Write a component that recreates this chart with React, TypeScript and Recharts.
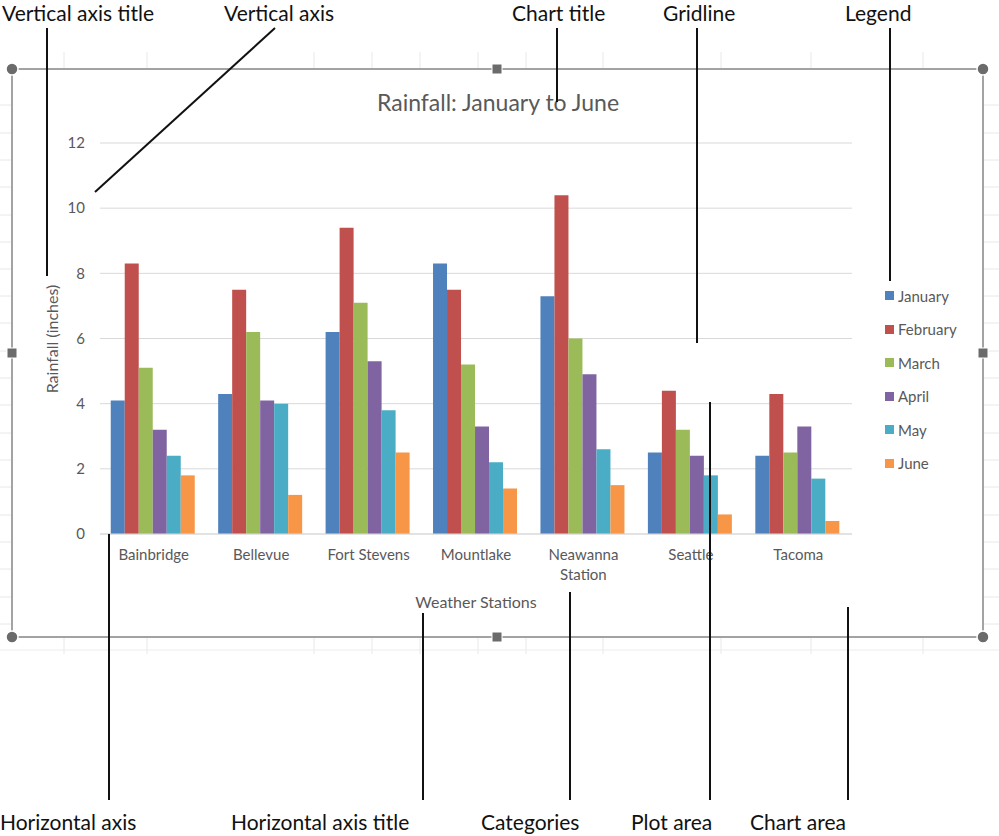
import { Bar, BarChart, CartesianGrid, Text, XAxis, YAxis } from 'recharts'

const stations = ['Bainbridge', 'Bellevue', 'Fort Stevens', 'Mountlake', 'Neawanna Station', 'Seattle', 'Tacoma']
const january = [4.1, 4.3, 6.2, 8.3, 7.3, 2.5, 2.4]
const february = [8.3, 7.5, 9.4, 7.5, 10.4, 4.4, 4.3]
const march = [5.1, 6.2, 7.1, 5.2, 6.0, 3.2, 2.5]
const april = [3.2, 4.1, 5.3, 3.3, 4.9, 2.4, 3.3]
const may = [2.4, 4.0, 3.8, 2.2, 2.6, 1.8, 1.7]
const june = [1.8, 1.2, 2.5, 1.4, 1.5, 0.6, 0.4]
const yTicks = [0, 2, 4, 6, 8, 10, 12]

const series = [
  { key: 'january', name: 'January', values: january, color: '#4F81BD' },
  { key: 'february', name: 'February', values: february, color: '#C0504D' },
  { key: 'march', name: 'March', values: march, color: '#9BBB59' },
  { key: 'april', name: 'April', values: april, color: '#8064A2' },
  { key: 'may', name: 'May', values: may, color: '#4BACC6' },
  { key: 'june', name: 'June', values: june, color: '#F79646' },
]

const data = stations.map((station, i) => {
  const row: Record<string, string | number> = { station }
  series.forEach((s) => {
    row[s.key] = s.values[i]
  })
  return row
})

const FONT = 'Lato, "Open Sans", sans-serif'
const GREY = '#595959'

// callout labels drawn around the chart (diagram annotations)
const callouts = [
  { text: 'Vertical axis title', x: 2, y: 21, line: [47, 28, 47, 276] },
  { text: 'Vertical axis', x: 224, y: 21, line: [275, 28, 95, 192] },
  { text: 'Chart title', x: 512, y: 21, line: [557, 28, 557, 102] },
  { text: 'Gridline', x: 663, y: 21, line: [697, 28, 697, 343] },
  { text: 'Legend', x: 845, y: 21, line: [890, 28, 890, 281] },
  { text: 'Horizontal axis', x: 0, y: 830, line: [109, 534, 109, 800] },
  { text: 'Horizontal axis title', x: 231, y: 830, line: [423, 613, 423, 800] },
  { text: 'Categories', x: 481, y: 830, line: [570, 592, 570, 800] },
  { text: 'Plot area', x: 631, y: 830, line: [710, 402, 710, 800] },
  { text: 'Chart area', x: 750, y: 830, line: [848, 607, 848, 800] },
]

const sheetCols = [64, 147, 314, 372, 420, 478, 526, 603, 721, 811, 923]
const sheetRows = [105, 133, 160, 187, 215, 242, 269, 296, 323, 351, 378, 405, 433, 460, 487, 515, 542, 569, 597, 624]

function StationTick({ x, y, payload }: any) {
  return (
    <Text
      x={x}
      y={y}
      width={96}
      textAnchor="middle"
      verticalAnchor="start"
      lineHeight={20}
      fill={GREY}
      fontSize={15}
      fontFamily={FONT}
    >
      {payload.value}
    </Text>
  )
}

function Handle({ x, y, round }: { x: number; y: number; round?: boolean }) {
  return round ? (
    <circle cx={x} cy={y} r={6} fill="#6b6b6b" stroke="#fff" strokeWidth={1.5} />
  ) : (
    <rect x={x - 5} y={y - 5} width={10} height={10} fill="#6b6b6b" stroke="#fff" strokeWidth={1} />
  )
}

export default function App() {
  return (
    <div style={{ position: 'absolute', left: 0, top: 0, width: 999, height: 836, background: '#fff', fontFamily: FONT }}>
      <svg width={999} height={836} style={{ position: 'absolute', left: 0, top: 0 }}>
        {sheetRows.map((r) => (
          <g key={r}>
            <line x1={0} x2={12} y1={r} y2={r} stroke="#e8e8e8" />
            <line x1={983} x2={999} y1={r} y2={r} stroke="#e8e8e8" />
          </g>
        ))}
        {sheetCols.map((c) => (
          <g key={c}>
            <line x1={c} x2={c} y1={52} y2={69} stroke="#e8e8e8" />
            <line x1={c} x2={c} y1={637} y2={654} stroke="#e8e8e8" />
          </g>
        ))}
        <line x1={0} x2={999} y1={650} y2={650} stroke="#ececec" />
      </svg>

      <div style={{ position: 'absolute', left: 0, top: 0 }}>
        <BarChart
          width={999}
          height={836}
          data={data}
          margin={{ top: 143, right: 147, bottom: 272, left: 60 }}
          barCategoryGap="10%"
          barGap={0}
        >
          <CartesianGrid vertical={false} stroke="#d9d9d9" />
          <XAxis
            dataKey="station"
            height={30}
            interval={0}
            tickLine={false}
            tickSize={0}
            tickMargin={15}
            axisLine={{ stroke: '#d9d9d9' }}
            tick={<StationTick />}
          />
          <YAxis
            width={40}
            domain={[0, 12]}
            ticks={yTicks}
            interval={0}
            axisLine={false}
            tickLine={false}
            tickSize={0}
            tickMargin={15}
            tick={{ fill: GREY, fontSize: 15, fontFamily: FONT }}
          />
          {series.map((s) => (
            <Bar key={s.key} dataKey={s.key} name={s.name} fill={s.color} isAnimationActive={false} />
          ))}
        </BarChart>
      </div>

      <div style={{ position: 'absolute', left: 0, width: 996, top: 88, textAlign: 'center', fontSize: 23, color: GREY }}>
        Rainfall: January to June
      </div>
      <div
        style={{
          position: 'absolute',
          left: 51,
          top: 339,
          transform: 'translate(-50%, -50%) rotate(-90deg)',
          fontSize: 16,
          color: GREY,
          whiteSpace: 'nowrap',
        }}
      >
        Rainfall (inches)
      </div>
      <div style={{ position: 'absolute', left: 476, top: 601, transform: 'translate(-50%, -50%)', fontSize: 16, color: GREY, whiteSpace: 'nowrap' }}>
        Weather Stations
      </div>

      <div style={{ position: 'absolute', left: 885, top: 279 }}>
        {series.map((s) => (
          <div key={s.key} style={{ display: 'flex', alignItems: 'center', height: 33.5, fontSize: 15, color: GREY }}>
            <span style={{ width: 9, height: 9, background: s.color, marginRight: 4 }} />
            {s.name}
          </div>
        ))}
      </div>

      <svg width={999} height={836} style={{ position: 'absolute', left: 0, top: 0, pointerEvents: 'none' }}>
        <rect x={12} y={69} width={971} height={568} fill="none" stroke="#a3a3a3" strokeWidth={2} />
        <Handle x={12} y={69} round />
        <Handle x={983} y={69} round />
        <Handle x={12} y={637} round />
        <Handle x={983} y={637} round />
        <Handle x={497} y={69} />
        <Handle x={497} y={637} />
        <Handle x={12} y={353} />
        <Handle x={983} y={353} />
        {callouts.map((c) => (
          <g key={c.text}>
            <line x1={c.line[0]} y1={c.line[1]} x2={c.line[2]} y2={c.line[3]} stroke="#111" strokeWidth={2} />
            <text x={c.x} y={c.y} fontSize={21} fontFamily={FONT} fill="#111">
              {c.text}
            </text>
          </g>
        ))}
      </svg>
    </div>
  )
}
